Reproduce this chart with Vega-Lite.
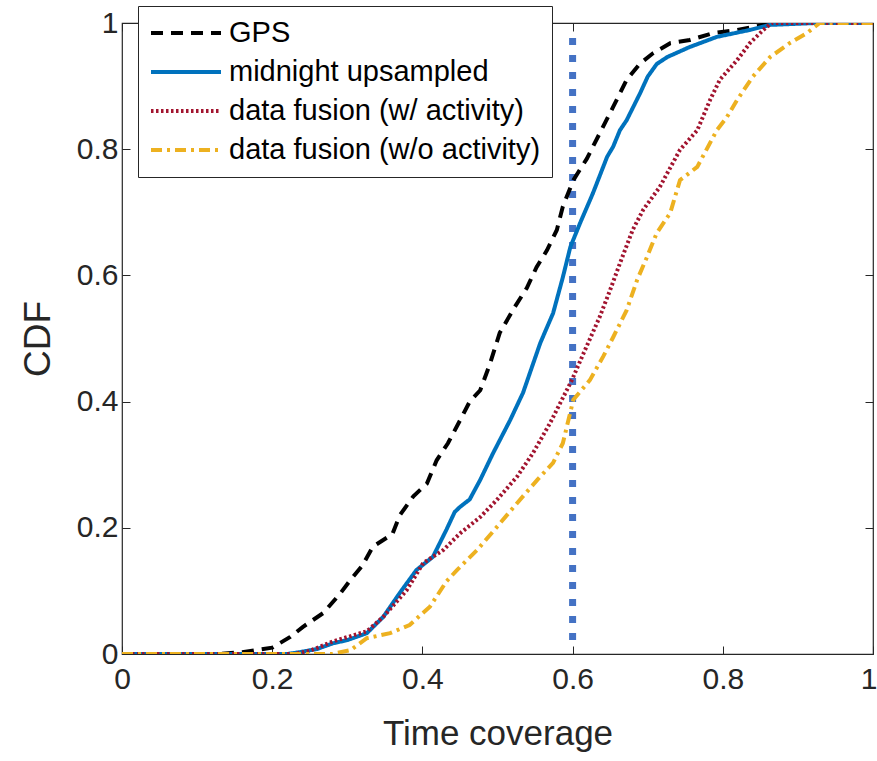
{
  "$schema": "https://vega.github.io/schema/vega-lite/v6.json",
  "width": 751,
  "height": 631,
  "autosize": "none",
  "padding": {"left": 122, "top": 23, "right": 4, "bottom": 107},
  "background": "white",
  "config": {
    "font": "Liberation Sans",
    "view": {"stroke": "#262626", "strokeWidth": 1.2},
    "axis": {
      "domainColor": "#262626",
      "tickColor": "#262626",
      "labelColor": "#262626",
      "titleColor": "#262626",
      "labelFont": "Liberation Sans",
      "titleFont": "Liberation Sans",
      "grid": false,
      "titleFontWeight": "normal"
    },
    "legend": {"labelFont": "Liberation Sans"}
  },
  "datasets": {
    "curves": [
      {"s": "GPS", "x": 0, "y": 0}, {"s": "GPS", "x": 0.13, "y": 0}, {"s": "GPS", "x": 0.16, "y": 0.003}, {"s": "GPS", "x": 0.2, "y": 0.01}, {"s": "GPS", "x": 0.224, "y": 0.027}, {"s": "GPS", "x": 0.241, "y": 0.043}, {"s": "GPS", "x": 0.268, "y": 0.065}, {"s": "GPS", "x": 0.29, "y": 0.095}, {"s": "GPS", "x": 0.304, "y": 0.117}, {"s": "GPS", "x": 0.32, "y": 0.14}, {"s": "GPS", "x": 0.334, "y": 0.17}, {"s": "GPS", "x": 0.36, "y": 0.19}, {"s": "GPS", "x": 0.37, "y": 0.22}, {"s": "GPS", "x": 0.388, "y": 0.25}, {"s": "GPS", "x": 0.406, "y": 0.27}, {"s": "GPS", "x": 0.419, "y": 0.307}, {"s": "GPS", "x": 0.434, "y": 0.334}, {"s": "GPS", "x": 0.45, "y": 0.37}, {"s": "GPS", "x": 0.463, "y": 0.4}, {"s": "GPS", "x": 0.477, "y": 0.418}, {"s": "GPS", "x": 0.49, "y": 0.46}, {"s": "GPS", "x": 0.503, "y": 0.509}, {"s": "GPS", "x": 0.523, "y": 0.55}, {"s": "GPS", "x": 0.539, "y": 0.58}, {"s": "GPS", "x": 0.552, "y": 0.613}, {"s": "GPS", "x": 0.566, "y": 0.64}, {"s": "GPS", "x": 0.579, "y": 0.672}, {"s": "GPS", "x": 0.587, "y": 0.709}, {"s": "GPS", "x": 0.601, "y": 0.751}, {"s": "GPS", "x": 0.619, "y": 0.785}, {"s": "GPS", "x": 0.636, "y": 0.825}, {"s": "GPS", "x": 0.654, "y": 0.867}, {"s": "GPS", "x": 0.672, "y": 0.91}, {"s": "GPS", "x": 0.69, "y": 0.936}, {"s": "GPS", "x": 0.707, "y": 0.952}, {"s": "GPS", "x": 0.73, "y": 0.968}, {"s": "GPS", "x": 0.756, "y": 0.973}, {"s": "GPS", "x": 0.787, "y": 0.984}, {"s": "GPS", "x": 0.819, "y": 0.989}, {"s": "GPS", "x": 0.854, "y": 0.997}, {"s": "GPS", "x": 0.87, "y": 1}, {"s": "GPS", "x": 1, "y": 1},
      {"s": "midnight upsampled", "x": 0, "y": 0}, {"s": "midnight upsampled", "x": 0.22, "y": 0}, {"s": "midnight upsampled", "x": 0.237, "y": 0.003}, {"s": "midnight upsampled", "x": 0.26, "y": 0.008}, {"s": "midnight upsampled", "x": 0.281, "y": 0.017}, {"s": "midnight upsampled", "x": 0.3, "y": 0.022}, {"s": "midnight upsampled", "x": 0.326, "y": 0.033}, {"s": "midnight upsampled", "x": 0.348, "y": 0.059}, {"s": "midnight upsampled", "x": 0.37, "y": 0.097}, {"s": "midnight upsampled", "x": 0.392, "y": 0.133}, {"s": "midnight upsampled", "x": 0.414, "y": 0.154}, {"s": "midnight upsampled", "x": 0.432, "y": 0.197}, {"s": "midnight upsampled", "x": 0.443, "y": 0.225}, {"s": "midnight upsampled", "x": 0.45, "y": 0.233}, {"s": "midnight upsampled", "x": 0.463, "y": 0.245}, {"s": "midnight upsampled", "x": 0.477, "y": 0.276}, {"s": "midnight upsampled", "x": 0.494, "y": 0.318}, {"s": "midnight upsampled", "x": 0.517, "y": 0.371}, {"s": "midnight upsampled", "x": 0.534, "y": 0.414}, {"s": "midnight upsampled", "x": 0.557, "y": 0.493}, {"s": "midnight upsampled", "x": 0.574, "y": 0.54}, {"s": "midnight upsampled", "x": 0.587, "y": 0.597}, {"s": "midnight upsampled", "x": 0.597, "y": 0.645}, {"s": "midnight upsampled", "x": 0.61, "y": 0.683}, {"s": "midnight upsampled", "x": 0.627, "y": 0.73}, {"s": "midnight upsampled", "x": 0.646, "y": 0.788}, {"s": "midnight upsampled", "x": 0.654, "y": 0.804}, {"s": "midnight upsampled", "x": 0.663, "y": 0.83}, {"s": "midnight upsampled", "x": 0.672, "y": 0.846}, {"s": "midnight upsampled", "x": 0.69, "y": 0.889}, {"s": "midnight upsampled", "x": 0.7, "y": 0.915}, {"s": "midnight upsampled", "x": 0.712, "y": 0.935}, {"s": "midnight upsampled", "x": 0.726, "y": 0.946}, {"s": "midnight upsampled", "x": 0.756, "y": 0.962}, {"s": "midnight upsampled", "x": 0.792, "y": 0.978}, {"s": "midnight upsampled", "x": 0.836, "y": 0.989}, {"s": "midnight upsampled", "x": 0.863, "y": 0.997}, {"s": "midnight upsampled", "x": 0.925, "y": 1}, {"s": "midnight upsampled", "x": 1, "y": 1},
      {"s": "data fusion (w/ activity)", "x": 0, "y": 0}, {"s": "data fusion (w/ activity)", "x": 0.23, "y": 0}, {"s": "data fusion (w/ activity)", "x": 0.25, "y": 0.005}, {"s": "data fusion (w/ activity)", "x": 0.281, "y": 0.02}, {"s": "data fusion (w/ activity)", "x": 0.326, "y": 0.036}, {"s": "data fusion (w/ activity)", "x": 0.348, "y": 0.059}, {"s": "data fusion (w/ activity)", "x": 0.379, "y": 0.101}, {"s": "data fusion (w/ activity)", "x": 0.401, "y": 0.144}, {"s": "data fusion (w/ activity)", "x": 0.428, "y": 0.165}, {"s": "data fusion (w/ activity)", "x": 0.45, "y": 0.191}, {"s": "data fusion (w/ activity)", "x": 0.477, "y": 0.217}, {"s": "data fusion (w/ activity)", "x": 0.499, "y": 0.244}, {"s": "data fusion (w/ activity)", "x": 0.526, "y": 0.281}, {"s": "data fusion (w/ activity)", "x": 0.547, "y": 0.318}, {"s": "data fusion (w/ activity)", "x": 0.57, "y": 0.366}, {"s": "data fusion (w/ activity)", "x": 0.599, "y": 0.434}, {"s": "data fusion (w/ activity)", "x": 0.614, "y": 0.475}, {"s": "data fusion (w/ activity)", "x": 0.636, "y": 0.534}, {"s": "data fusion (w/ activity)", "x": 0.65, "y": 0.577}, {"s": "data fusion (w/ activity)", "x": 0.663, "y": 0.619}, {"s": "data fusion (w/ activity)", "x": 0.68, "y": 0.672}, {"s": "data fusion (w/ activity)", "x": 0.694, "y": 0.704}, {"s": "data fusion (w/ activity)", "x": 0.716, "y": 0.74}, {"s": "data fusion (w/ activity)", "x": 0.743, "y": 0.799}, {"s": "data fusion (w/ activity)", "x": 0.766, "y": 0.83}, {"s": "data fusion (w/ activity)", "x": 0.783, "y": 0.878}, {"s": "data fusion (w/ activity)", "x": 0.796, "y": 0.91}, {"s": "data fusion (w/ activity)", "x": 0.819, "y": 0.941}, {"s": "data fusion (w/ activity)", "x": 0.836, "y": 0.968}, {"s": "data fusion (w/ activity)", "x": 0.854, "y": 0.989}, {"s": "data fusion (w/ activity)", "x": 0.865, "y": 1}, {"s": "data fusion (w/ activity)", "x": 1, "y": 1},
      {"s": "data fusion (w/o activity)", "x": 0, "y": 0}, {"s": "data fusion (w/o activity)", "x": 0.28, "y": 0}, {"s": "data fusion (w/o activity)", "x": 0.304, "y": 0.006}, {"s": "data fusion (w/o activity)", "x": 0.326, "y": 0.025}, {"s": "data fusion (w/o activity)", "x": 0.357, "y": 0.033}, {"s": "data fusion (w/o activity)", "x": 0.383, "y": 0.046}, {"s": "data fusion (w/o activity)", "x": 0.41, "y": 0.075}, {"s": "data fusion (w/o activity)", "x": 0.432, "y": 0.115}, {"s": "data fusion (w/o activity)", "x": 0.446, "y": 0.133}, {"s": "data fusion (w/o activity)", "x": 0.473, "y": 0.165}, {"s": "data fusion (w/o activity)", "x": 0.499, "y": 0.201}, {"s": "data fusion (w/o activity)", "x": 0.526, "y": 0.239}, {"s": "data fusion (w/o activity)", "x": 0.553, "y": 0.276}, {"s": "data fusion (w/o activity)", "x": 0.574, "y": 0.303}, {"s": "data fusion (w/o activity)", "x": 0.587, "y": 0.334}, {"s": "data fusion (w/o activity)", "x": 0.601, "y": 0.403}, {"s": "data fusion (w/o activity)", "x": 0.623, "y": 0.434}, {"s": "data fusion (w/o activity)", "x": 0.641, "y": 0.472}, {"s": "data fusion (w/o activity)", "x": 0.654, "y": 0.502}, {"s": "data fusion (w/o activity)", "x": 0.672, "y": 0.545}, {"s": "data fusion (w/o activity)", "x": 0.686, "y": 0.593}, {"s": "data fusion (w/o activity)", "x": 0.699, "y": 0.629}, {"s": "data fusion (w/o activity)", "x": 0.712, "y": 0.667}, {"s": "data fusion (w/o activity)", "x": 0.73, "y": 0.699}, {"s": "data fusion (w/o activity)", "x": 0.743, "y": 0.751}, {"s": "data fusion (w/o activity)", "x": 0.766, "y": 0.772}, {"s": "data fusion (w/o activity)", "x": 0.792, "y": 0.83}, {"s": "data fusion (w/o activity)", "x": 0.805, "y": 0.85}, {"s": "data fusion (w/o activity)", "x": 0.819, "y": 0.878}, {"s": "data fusion (w/o activity)", "x": 0.84, "y": 0.915}, {"s": "data fusion (w/o activity)", "x": 0.863, "y": 0.946}, {"s": "data fusion (w/o activity)", "x": 0.889, "y": 0.968}, {"s": "data fusion (w/o activity)", "x": 0.912, "y": 0.984}, {"s": "data fusion (w/o activity)", "x": 0.929, "y": 1}, {"s": "data fusion (w/o activity)", "x": 1, "y": 1}
    ],
    "threshold": [{"x": 0.6, "y": 0.022, "y2": 0.981}]
  },
  "layer": [
    {
      "data": {"name": "threshold"},
      "mark": {"type": "rule", "color": "#4472C4", "strokeWidth": 7, "strokeDash": [7, 10], "strokeCap": "butt"},
      "encoding": {
        "x": {"field": "x", "type": "quantitative", "scale": {"domain": [0, 1], "nice": false, "zero": false},
          "axis": {"orient": "top", "labels": false, "title": null, "domain": false, "tickSize": -8, "values": [0, 0.2, 0.4, 0.6, 0.8, 1]}},
        "y": {"field": "y", "type": "quantitative", "scale": {"domain": [0, 1], "nice": false},
          "axis": {"orient": "right", "labels": false, "title": null, "domain": false, "tickSize": -8, "values": [0, 0.2, 0.4, 0.6, 0.8, 1]}},
        "y2": {"field": "y2"}
      }
    },
    {
      "data": {"name": "curves"},
      "mark": {"type": "line", "strokeWidth": 4, "clip": true},
      "encoding": {
        "x": {"field": "x", "type": "quantitative",
          "axis": {"orient": "bottom", "title": "Time coverage", "titleFontSize": 35, "titlePadding": 22, "labelFontSize": 30, "labelPadding": 18, "tickSize": -8, "domain": false, "values": [0, 0.2, 0.4, 0.6, 0.8, 1], "format": "~g", "labelFlush": false,
            "labelAlign": {"expr": "datum.value == 1 ? 'right' : 'center'"}, "labelOffset": {"expr": "datum.value == 1 ? 4 : 0"}}},
        "y": {"field": "y", "type": "quantitative",
          "axis": {"orient": "left", "title": "CDF", "titleFontSize": 37, "titlePadding": 19, "labelFontSize": 30, "labelPadding": 12, "tickSize": -8, "domain": false, "values": [0, 0.2, 0.4, 0.6, 0.8, 1], "format": "~g", "labelFlush": false}},
        "color": {"field": "s", "type": "nominal",
          "scale": {"domain": ["GPS", "midnight upsampled", "data fusion (w/ activity)", "data fusion (w/o activity)"], "range": ["#000000", "#0072BD", "#A2142F", "#EDB120"]},
          "legend": {"title": null, "orient": "none", "legendX": 16, "legendY": -17, "strokeColor": "#262626", "fillColor": "white", "padding": 11, "labelFontSize": 29, "labelLimit": 500, "labelColor": "#000000", "symbolType": "stroke", "symbolSize": 4900, "symbolStrokeWidth": 4, "clipHeight": 32, "rowPadding": 7, "labelOffset": 6}},
        "strokeDash": {"field": "s", "type": "nominal",
          "scale": {"domain": ["GPS", "midnight upsampled", "data fusion (w/ activity)", "data fusion (w/o activity)"], "range": [[12, 8], [1, 0], [2.5, 2.5], [11, 5, 3, 5]]},
          "legend": {"title": null, "orient": "none", "legendX": 16, "legendY": -17, "strokeColor": "#262626", "fillColor": "white", "padding": 11, "labelFontSize": 29, "labelLimit": 500, "labelColor": "#000000", "symbolType": "stroke", "symbolSize": 4900, "symbolStrokeWidth": 4, "clipHeight": 32, "rowPadding": 7, "labelOffset": 6}}
      }
    }
  ],
  "resolve": {"axis": {"x": "independent", "y": "independent"}}
}
